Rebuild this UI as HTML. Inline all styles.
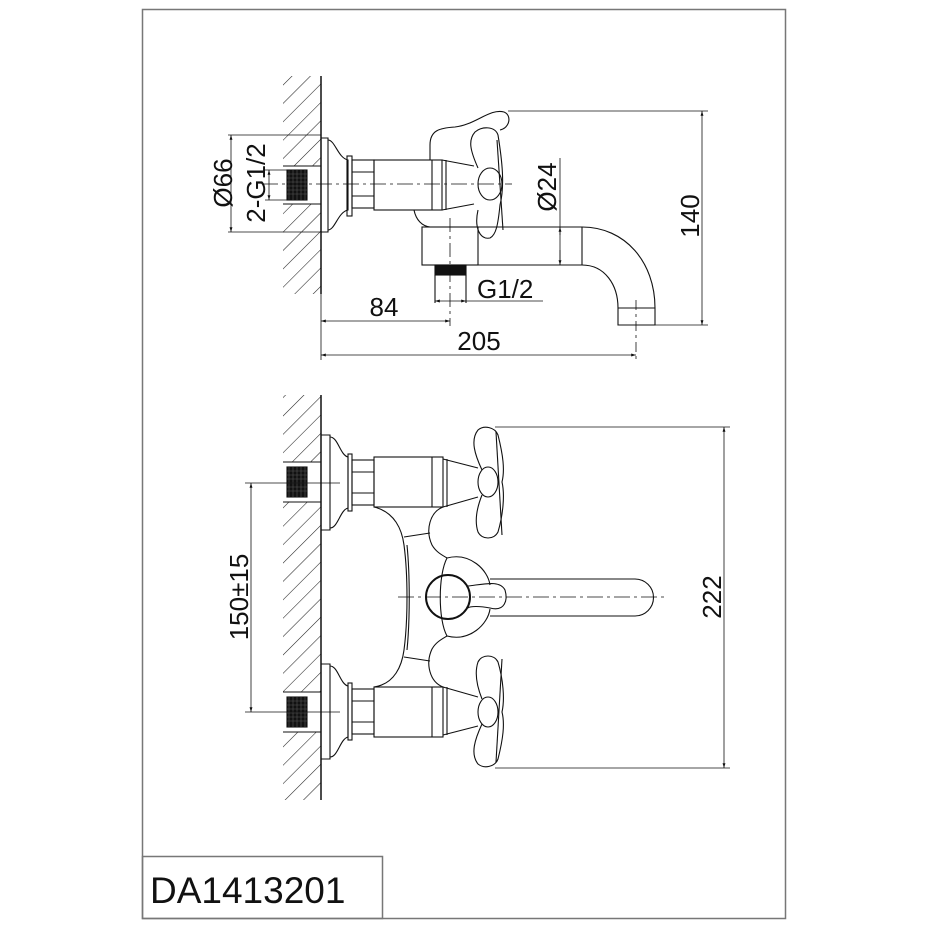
<!DOCTYPE html>
<html><head><meta charset="utf-8"><style>
html,body{margin:0;padding:0;background:#fff;}
svg{display:block;}
text{font-family:"Liberation Sans",Arial,sans-serif;fill:#111;}
</style></head><body>
<svg width="928" height="928" viewBox="0 0 928 928" xmlns="http://www.w3.org/2000/svg">
<defs>
<pattern id="h" patternUnits="userSpaceOnUse" width="13" height="13" patternTransform="rotate(45)">
<line x1="0" y1="0" x2="0" y2="13" stroke="#222" stroke-width="1.1"/>
</pattern>
<marker id="a" viewBox="0 0 10 10" refX="10" refY="5" markerWidth="9" markerHeight="6" orient="auto-start-reverse"><path d="M0,2 L10,5 L0,8 z" fill="#111"/></marker>
<g id="grid">
<rect x="0" y="0" width="20" height="30" fill="#111"/>
<path d="M2,0V30M6,0V30M10,0V30M14,0V30M18,0V30M0,4H20M0,8H20M0,12H20M0,16H20M0,20H20M0,24H20" stroke="#555" stroke-width="0.6"/>
</g>
</defs>
<rect x="142.5" y="9.5" width="643" height="909" fill="none" stroke="#777" stroke-width="1.5"/>
<rect x="142.5" y="856.5" width="240" height="62" fill="none" stroke="#777" stroke-width="1.5"/>
<text x="150" y="903" font-size="37">DA1413201</text>

<g fill="none" stroke="#111" stroke-width="1.1">
<rect x="283" y="76" width="38" height="218" fill="url(#h)" stroke="none"/>
<rect x="283" y="166" width="38" height="38" fill="#fff" stroke="none"/>
<line x1="321" y1="76" x2="321" y2="294" stroke-width="1.5"/>
<line x1="283" y1="166" x2="321" y2="166"/><line x1="283" y1="204" x2="321" y2="204"/>
<use href="#grid" x="287" y="170"/>
<path d="M321,138 H328 V232 H321"/>
<path d="M328,140 C335,140 338,158 348,160 V210 C338,212 335,230 328,230"/>
<rect x="347" y="156" width="5" height="60"/>
<rect x="352" y="160" width="22" height="48"/>
<line x1="352" y1="172" x2="374" y2="172"/><line x1="352" y1="196" x2="374" y2="196"/>
<rect x="374" y="160" width="68" height="50"/>
<line x1="432" y1="160" x2="432" y2="210"/>
<path d="M442,160 L474,166 M442,210 L474,204 M446,160 V210"/>
<path d="M430,160 V145 C430,130 440,128 455,127 C475,125 490,108 504,112 C512,115 510,128 500,130"/>
<path d="M478,168 C470,150 468,140 475,132 C482,126 495,126 498,135 C502,160 505,185 500,205 C498,225 496,235 490,238 C480,240 474,228 478,210"/>
<ellipse cx="490" cy="184" rx="12" ry="16"/>
<line x1="497" y1="140" x2="503" y2="230"/>
<path d="M414,210 C416,220 422,226 430,227"/>
<rect x="422" y="227" width="56" height="38"/>
<path d="M478,227 H582 M478,265 H582 M582,227 V265"/>
<path d="M582,227 C625,227 655,262 655,308 V325 H618 V308 C618,285 605,265 582,265"/>
<line x1="618" y1="308" x2="655" y2="308"/>
<rect x="435" y="265" width="31" height="10" fill="#111"/>
<path d="M435,275 V303 M466,275 V303"/>
<line x1="262" y1="184" x2="512" y2="184" stroke-dasharray="16,4,3,4" stroke-width="0.8"/>
<line x1="450" y1="218" x2="450" y2="326" stroke-dasharray="14,4,3,4" stroke-width="0.8"/>
<line x1="636" y1="300" x2="636" y2="360" stroke-dasharray="10,4,3,4" stroke-width="0.8"/>
<line x1="228" y1="135" x2="321" y2="135" stroke-width="0.8"/>
<line x1="228" y1="232" x2="321" y2="232" stroke-width="0.8"/>
<line x1="231" y1="135" x2="231" y2="232" marker-start="url(#a)" marker-end="url(#a)" stroke-width="0.8"/>
<line x1="265" y1="170" x2="290" y2="170" stroke-width="0.8"/>
<line x1="265" y1="200" x2="290" y2="200" stroke-width="0.8"/>
<line x1="269" y1="170" x2="269" y2="200" marker-start="url(#a)" marker-end="url(#a)" stroke-width="0.8"/>
<line x1="321" y1="294" x2="321" y2="360" stroke-width="0.8"/>
<line x1="321" y1="321" x2="450" y2="321" marker-start="url(#a)" marker-end="url(#a)" stroke-width="0.8"/>
<line x1="321" y1="355" x2="636" y2="355" marker-start="url(#a)" marker-end="url(#a)" stroke-width="0.8"/>
<line x1="435" y1="301" x2="466" y2="301" marker-start="url(#a)" marker-end="url(#a)" stroke-width="0.8"/>
<line x1="466" y1="301" x2="543" y2="301" stroke-width="0.8"/>
<line x1="560" y1="158" x2="560" y2="265" stroke-width="0.8"/>
<line x1="560" y1="235" x2="560" y2="227" marker-end="url(#a)" stroke-width="0.8"/>
<line x1="560" y1="250" x2="560" y2="265" marker-end="url(#a)" stroke-width="0.8"/>
<line x1="508" y1="111" x2="708" y2="111" stroke-width="0.8"/>
<line x1="655" y1="325" x2="708" y2="325" stroke-width="0.8"/>
<line x1="702" y1="111" x2="702" y2="325" marker-start="url(#a)" marker-end="url(#a)" stroke-width="0.8"/>

<rect x="283" y="395" width="38" height="405" fill="url(#h)" stroke="none"/>
<rect x="283" y="462" width="38" height="40" fill="#fff" stroke="none"/>
<rect x="283" y="692" width="38" height="40" fill="#fff" stroke="none"/>
<line x1="321" y1="395" x2="321" y2="800" stroke-width="1.5"/>
<path d="M283,462 H321 M283,502 H321 M283,692 H321 M283,732 H321"/>
<use href="#grid" x="287" y="467"/>
<use href="#grid" x="287" y="697"/>
<line x1="245" y1="483" x2="340" y2="483" stroke-width="0.8"/>
<line x1="245" y1="712" x2="340" y2="712" stroke-width="0.8"/>
<line x1="251" y1="483" x2="251" y2="712" marker-start="url(#a)" marker-end="url(#a)" stroke-width="0.8"/>

<g id="unit">
<path d="M321,435 H330 V530 H321"/>
<path d="M330,437 C338,437 340,455 348,457 V508 C340,510 338,528 330,528"/>
<rect x="348" y="454" width="4" height="57"/>
<rect x="352" y="460" width="22" height="45"/>
<line x1="352" y1="472" x2="374" y2="472"/><line x1="352" y1="493" x2="374" y2="493"/>
<rect x="374" y="457" width="69" height="50"/>
<line x1="432" y1="457" x2="432" y2="507"/>
<path d="M443,459 L478,468 M443,507 L478,497 M447,459 V507"/>
<path d="M482,470 C475,455 470,440 478,430 C484,425 495,427 498,435 C503,455 505,470 502,482 C505,495 503,515 498,532 C494,540 482,540 478,532 C474,520 478,505 482,495"/>
<ellipse cx="488" cy="482" rx="10" ry="15"/>
<line x1="496" y1="432" x2="502" y2="535"/>
</g>
<use href="#unit" transform="translate(0,1194) scale(1,-1)"/>
<path d="M374,507 C395,512 402,530 404,545 C408,575 408,620 404,650 C402,665 395,684 374,687"/>
<path d="M407,545 C410,575 410,620 407,650"/>
<path d="M443,507 C430,512 425,530 432,545 C436,552 442,555 447,558"/>
<path d="M443,687 C430,682 425,664 432,649 C436,642 442,639 447,636"/>
<line x1="404" y1="537" x2="430" y2="533"/>
<line x1="404" y1="657" x2="430" y2="661"/>
<path d="M447,558 C470,552 488,570 490,585 M447,636 C470,642 488,624 490,609"/>
<path d="M447,558 C438,575 438,620 447,636"/>
<path d="M490,579 H635 A18.5,18.5 0 0 1 635,616 H490"/>
<path d="M468,586 C485,584 500,580 505,590 C508,600 505,612 490,608 C480,606 470,606 468,608" />
<circle cx="448" cy="597" r="22" stroke-width="2"/>
<line x1="398" y1="597" x2="665" y2="597" stroke-dasharray="16,4,3,4" stroke-width="0.8"/>
<line x1="495" y1="427" x2="730" y2="427" stroke-width="0.8"/>
<line x1="495" y1="768" x2="730" y2="768" stroke-width="0.8"/>
<line x1="724" y1="427" x2="724" y2="768" marker-start="url(#a)" marker-end="url(#a)" stroke-width="0.8"/>
</g>

<text x="0" y="0" font-size="26" transform="translate(232,183) rotate(-90)" text-anchor="middle">Ø66</text>
<text x="0" y="0" font-size="26" transform="translate(265,183) rotate(-90)" text-anchor="middle">2-G1/2</text>
<text x="0" y="0" font-size="26" transform="translate(556,187) rotate(-90)" text-anchor="middle">Ø24</text>
<text x="0" y="0" font-size="26" transform="translate(699,216) rotate(-90)" text-anchor="middle">140</text>
<text x="0" y="0" font-size="26" transform="translate(248,597) rotate(-90)" text-anchor="middle">150±15</text>
<text x="0" y="0" font-size="26" transform="translate(721,597) rotate(-90)" text-anchor="middle">222</text>
<text x="477" y="298" font-size="26">G1/2</text>
<text x="384" y="316" font-size="26" text-anchor="middle">84</text>
<text x="479" y="350" font-size="26" text-anchor="middle">205</text>
</svg>
</body></html>
